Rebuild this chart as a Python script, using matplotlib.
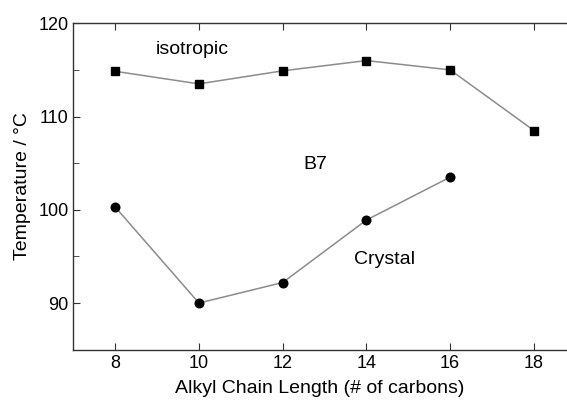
import matplotlib
matplotlib.use('Agg')
import matplotlib.pyplot as plt
from matplotlib.ticker import MultipleLocator

plt.rcParams['font.family'] = ['Liberation Sans', 'DejaVu Sans']

chain = [8, 10, 12, 14, 16, 18]
iso_temp = [114.85, 113.5, 114.9, 116.0, 115.0, 108.5]
chain_cr = [8, 10, 12, 14, 16]
cryst_temp = [100.3, 90.0, 92.2, 98.9, 103.5]

fig = plt.figure(figsize=(5.67, 4.01), dpi=100)
ax = fig.add_axes([0.1293, 0.128, 0.8707, 0.814])

ax.plot(chain, iso_temp, color='#8c8c8c', lw=1.1, marker='s', ms=5.4,
        mfc='black', mec='black')
ax.plot(chain_cr, cryst_temp, color='#8c8c8c', lw=1.1, marker='o', ms=6.2,
        mfc='black', mec='black')

ax.text(9.85, 117.2, 'isotropic', fontsize=14, ha='center', va='center')
ax.text(12.77, 104.9, 'B7', fontsize=14, ha='center', va='center')
ax.text(14.44, 94.7, 'Crystal', fontsize=14, ha='center', va='center')

ax.set_xlim(7, 18.79)
ax.set_ylim(85, 120)
ax.set_xticks(chain)
ax.yaxis.set_major_locator(MultipleLocator(10))
ax.yaxis.set_minor_locator(MultipleLocator(5))
ax.tick_params(which='both', direction='in', top=True, right=False,
               labelsize=13, color='#333333')
ax.tick_params(which='major', length=5)
ax.tick_params(which='minor', length=4)
ax.spines['right'].set_visible(False)
for s in ['left', 'top', 'bottom']:
    ax.spines[s].set_color('#333333')
    ax.spines[s].set_linewidth(1.0)

ax.set_xlabel('Alkyl Chain Length (# of carbons)', fontsize=14, labelpad=6)
ax.set_ylabel('Temperature / °C', fontsize=14, labelpad=5)

fig.savefig('out.png', dpi=100)
